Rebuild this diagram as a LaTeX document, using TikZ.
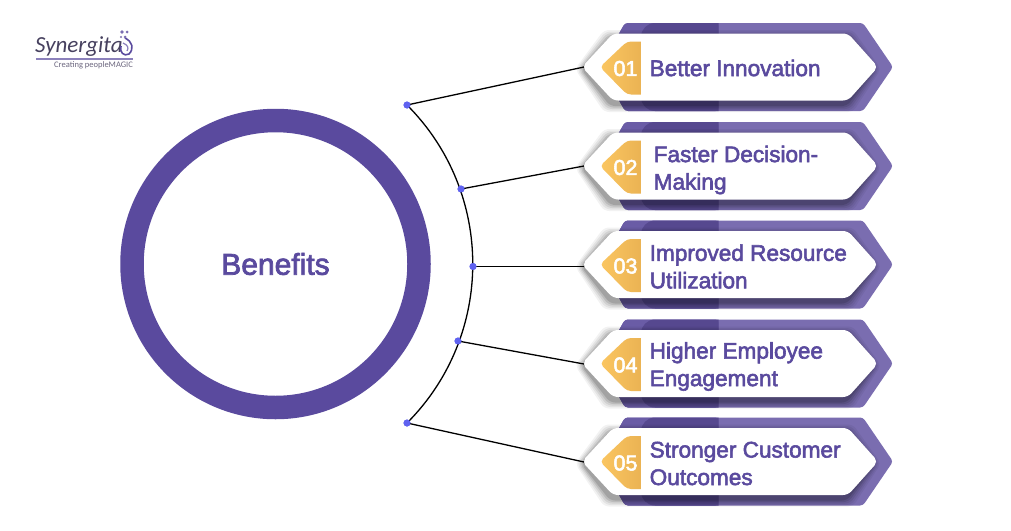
\documentclass[tikz,border=0pt]{standalone}
\usepackage{fontspec}
\setmainfont{Liberation Sans}
\newfontfamily\medfont[FakeBold=2.5]{Liberation Sans}
\newfontfamily\logofont{Carlito}
\definecolor{ringc}{HTML}{5A4A9E}
\definecolor{backl}{HTML}{7A6DB0}
\definecolor{backd}{HTML}{56488F}
\definecolor{backm}{HTML}{6A5CA6}
\definecolor{txtc}{HTML}{5A4A9E}
\definecolor{goldl}{HTML}{FBC661}
\definecolor{goldd}{HTML}{E9B152}
\definecolor{dotc}{HTML}{5F62F0}
\definecolor{logoc}{HTML}{47415F}
\tikzset{
  dotn/.style={circle,fill=dotc,inner sep=0pt,minimum size=7pt,draw=none},
  wire/.style={black,line width=1.3pt},
  itemtext/.style={anchor=west,text=txtc,font=\medfont\fontsize{22.6}{27.5}\selectfont,align=left,inner sep=0pt},
  numtext/.style={text=white,font=\medfont\fontsize{21.5}{24}\selectfont,inner sep=0pt},
}
\newcommand{\benefititem}[5]{%
  \begin{scope}[shift={(0,#1)}]
    \fill[backl,rounded corners=3pt] (600,0) -- (625,-44) -- (863,-44) -- (893,0) -- (863,44) -- (625,44) -- cycle;
    \begin{scope}
      \clip (600,-46) rectangle (718.5,46);
      \fill[backm,rounded corners=3pt] (600,0) -- (625,-44) -- (718.5,-44) -- (718.5,44) -- (625,44) -- cycle;
      \fill[backd,rounded corners=14pt] (641,-44) rectangle (760,44);
    \end{scope}
    \foreach \k/\op in {7/.05,5.5/.06,4/.08,2.5/.10,1/.13}{
      \fill[black,opacity=\op,rounded corners=5pt]
        (584-\k-2,2) -- (613-\k-2,-33-\k+3) -- (848+\k-2,-33-\k+3) -- (876+\k-2,2) -- (848+\k-2,35+\k+3) -- (613-\k-2,35+\k+3) -- cycle;
    }
    \fill[white,rounded corners=5pt] (582,0) -- (613,-33.5) -- (848,-33.5) -- (878,0) -- (848,33.5) -- (613,33.5) -- cycle;
    \shade[left color=goldl,right color=goldd,rounded corners=4pt] (600,0) -- (627,-25.5) -- (645,-25.5) -- (645,27.5) -- (627,27.5) -- cycle;
    \fill[white] (641,-26.5) rectangle (646,28.5);
    \node[numtext] (num#2) at (625.5,1.5) {#2};
    \node[itemtext] (lab#2) at (#3,#4) {#5};
  \end{scope}
}
\begin{document}
\begin{tikzpicture}[x=1pt,y=-1pt]
\useasboundingbox (0,0) rectangle (1011,530);
\fill[white] (0,0) rectangle (1011,530);
\node[anchor=west,inner sep=0pt,text=logoc,font=\logofont\itshape\fontsize{23}{23}\selectfont] (logo) at (35,47) {Synergita};
\fill[ringc!70] (36,58) rectangle (133,59.5);
\node[anchor=west,inner sep=0pt,text=logoc!80,font=\logofont\fontsize{8.5}{9}\selectfont] (tag) at (54,65.5) {Creating peopleMAGIC};
\draw[ringc,line width=1.6pt] (125,38) .. controls (133,42) and (134,49) .. (129,54) .. controls (124,57) and (119,52) .. (121,46);
\draw[ringc!70,line width=1.2pt] (123,43) .. controls (128,45) and (129,48) .. (127,51);
\fill[ringc!80] (122,32) circle (1.8) (127,32) circle (1.5) (125,37) circle (1.5) (121,37) circle (1.2);
\node[circle,draw=ringc,line width=23.5pt,minimum size=287pt,inner sep=0pt,font=\medfont\fontsize{30}{32}\selectfont,text=txtc] (hub) at (275.5,264) {Benefits};
\benefititem{67}{01}{649.5}{1}{Better Innovation}
\benefititem{166}{02}{653.5}{4}{Faster Decision-\\Making}
\benefititem{264.5}{03}{649.5}{2}{Improved Resource\\Utilization}
\benefititem{363.5}{04}{649.5}{3}{Higher Employee\\Engagement}
\benefititem{461.5}{05}{649.5}{2}{Stronger Customer\\Outcomes}
\coordinate (p1) at (584,67);
\coordinate (p2) at (584,166);
\coordinate (p3) at (584,266.5);
\coordinate (p4) at (584,364);
\coordinate (p5) at (584,462);
\node[dotn] (d1) at (407,105) {};
\node[dotn] (d2) at (461,189) {};
\node[dotn] (d3) at (473,266.5) {};
\node[dotn] (d4) at (458,341) {};
\node[dotn] (d5) at (407,423) {};
\draw[wire] (d1.center) to[bend left=45] (d5.center);
\foreach \i in {1,...,5}{\draw[wire] (d\i.center) -- (p\i);}
\foreach \i in {1,...,5}{\node[dotn] at (d\i) {};}
\end{tikzpicture}
\end{document}
